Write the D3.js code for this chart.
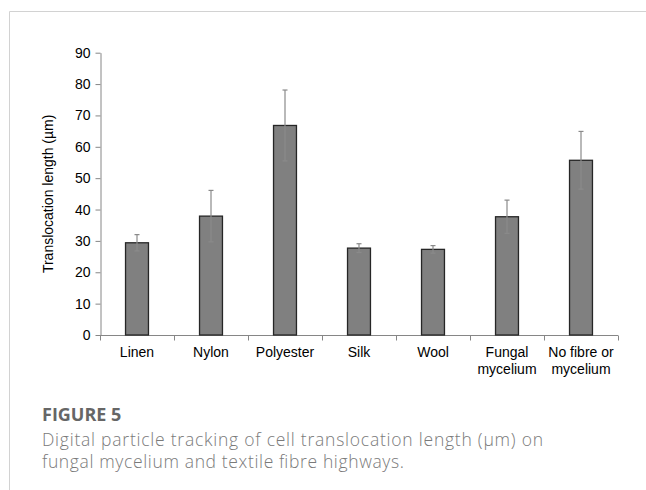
<!DOCTYPE html>
<html>
<head>
<meta charset="utf-8">
<script src="https://cdn.jsdelivr.net/npm/d3@7"></script>
<style>
  html, body { margin: 0; padding: 0; background: #fff; }
  svg { display: block; }
</style>
</head>
<body>
<svg id="chart" width="646" height="490"></svg>
<script>
const categories = [["Linen"], ["Nylon"], ["Polyester"], ["Silk"], ["Wool"], ["Fungal", "mycelium"], ["No fibre or", "mycelium"]];
const values = [29.4, 37.9, 66.8, 27.7, 27.3, 37.7, 55.7];
const errors = [2.6, 8.2, 11.3, 1.4, 1.2, 5.3, 9.2];
const yTicks = [0, 10, 20, 30, 40, 50, 60, 70, 80, 90];
const yTitle = "Translocation length (µm)";
const figLabel = "FIGURE 5";
const captionLines = ["Digital particle tracking of cell translocation length (µm) on", "fungal mycelium and textile fibre highways."];

const svg = d3.select("#chart");
const keys = categories.map(c => c.join(" "));
const data = keys.map((k, i) => ({ key: k, lines: categories[i], value: values[i], err: errors[i] }));

const axisColor = "#868686";
const chartFont = "'Liberation Sans', Arial, sans-serif";

// frame lines
svg.append("line").attr("x1", 9.5).attr("x2", 646).attr("y1", 11.5).attr("y2", 11.5)
  .attr("stroke", "#d2d2d2").attr("stroke-width", 1);
svg.append("line").attr("x1", 9.5).attr("x2", 9.5).attr("y1", 11.5).attr("y2", 490)
  .attr("stroke", "#d2d2d2").attr("stroke-width", 1);

const x = d3.scaleBand().domain(keys).range([100, 618]).padding(0);
const xb = d3.scaleBand().domain(keys).range([100, 618]).paddingInner(0.69).paddingOuter(0.345);
const y = d3.scaleLinear().domain([0, 90]).range([335, 52.7]);

// y axis
const yAxis = svg.append("g").attr("transform", "translate(100.5,0)")
  .call(d3.axisLeft(y).tickValues(yTicks).tickSize(5).tickPadding(5).tickSizeOuter(0));
yAxis.select(".domain").attr("stroke", axisColor);
yAxis.selectAll(".tick line").attr("stroke", axisColor);
yAxis.selectAll(".tick text").attr("font-family", chartFont).attr("font-size", 14).attr("fill", "#000");

// x axis
const xAxis = svg.append("g").attr("transform", "translate(0,335.5)")
  .call(d3.axisBottom(x).tickSize(0).tickFormat(""));
xAxis.select(".domain").attr("stroke", axisColor).attr("d", `M${x.range()[0]},0H${x.range()[1]}`);
xAxis.selectAll(".tick").remove();
const bounds = keys.map(k => x(k)).concat([x.range()[1]]);
xAxis.selectAll("line.bt").data(bounds).join("line").attr("class", "bt")
  .attr("x1", d => Math.round(d) + 0.5).attr("x2", d => Math.round(d) + 0.5)
  .attr("y1", 0).attr("y2", 5).attr("stroke", axisColor);

// x labels
const lbl = svg.append("g").attr("font-family", chartFont).attr("font-size", 14).attr("fill", "#000").attr("text-anchor", "middle");
data.forEach(d => {
  const t = lbl.append("text").attr("x", x(d.key) + x.bandwidth() / 2).attr("y", 357);
  d.lines.forEach((l, i) => t.append("tspan").attr("x", x(d.key) + x.bandwidth() / 2).attr("dy", i === 0 ? 0 : 17).text(l));
});

// bars
svg.append("g").selectAll("rect").data(data).join("rect")
  .attr("x", d => xb(d.key)).attr("width", xb.bandwidth())
  .attr("y", d => y(d.value)).attr("height", d => y(0) - y(d.value))
  .attr("fill", "#808080").attr("stroke", "#262626").attr("stroke-width", 1.3);

// error bars
const eg = svg.append("g").attr("stroke", "#8a8a8a").attr("stroke-width", 1.2);
data.forEach(d => {
  const cx = xb(d.key) + xb.bandwidth() / 2;
  eg.append("line").attr("x1", cx).attr("x2", cx).attr("y1", y(d.value + d.err)).attr("y2", y(d.value - d.err));
  eg.append("line").attr("x1", cx - 2.5).attr("x2", cx + 2.5).attr("y1", y(d.value + d.err)).attr("y2", y(d.value + d.err));
  eg.append("line").attr("x1", cx - 2.5).attr("x2", cx + 2.5).attr("y1", y(d.value - d.err)).attr("y2", y(d.value - d.err));
});

// y title
svg.append("text").attr("transform", `translate(53,${(y(0) + y(90)) / 2}) rotate(-90)`)
  .attr("text-anchor", "middle").attr("font-family", chartFont).attr("font-size", 14).attr("fill", "#000")
  .text(yTitle);

// caption
svg.append("text").attr("x", 42).attr("y", 421).attr("font-family", "'Open Sans', sans-serif")
  .attr("font-weight", 700).attr("font-size", 18).attr("fill", "#666").text(figLabel);
const capWidths = [501, 362];
captionLines.forEach((l, i) => svg.append("text").attr("font-family", "'Open Sans', sans-serif")
  .attr("font-size", 17.5).attr("fill", "#7a7a7a").attr("font-weight", 300)
  .attr("x", 42).attr("y", 446 + i * 22)
  .attr("textLength", capWidths[i]).attr("lengthAdjust", "spacing").text(l));
</script>
</body>
</html>
